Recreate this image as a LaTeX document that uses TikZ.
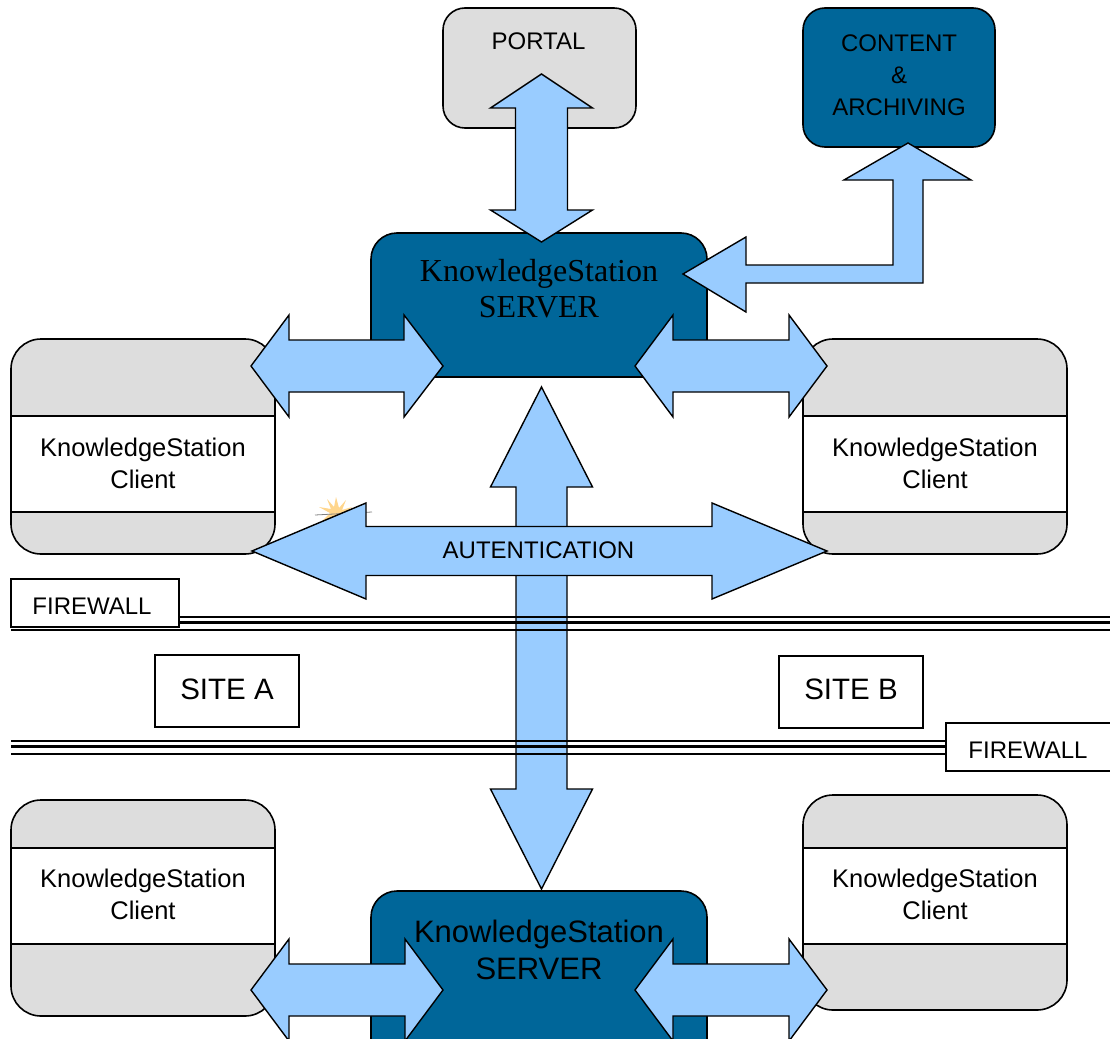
\documentclass[tikz,border=0pt]{standalone}
\usepackage{fontspec}
\setmainfont{Liberation Sans}
\newfontfamily\ksserif{Liberation Serif}
\definecolor{ksblue}{RGB}{0,102,153}
\definecolor{ksarrow}{RGB}{153,204,255}
\definecolor{ksgray}{RGB}{221,221,221}
\definecolor{kssun}{RGB}{255,214,140}
\tikzset{
  box/.style={draw=black, line width=1.6pt, inner sep=0pt},
  blockarrow/.style={fill=ksarrow, draw=black, line width=1.4pt, line join=miter},
  lbl/.style={font=\fontsize{24}{32}\selectfont, align=center, inner sep=0pt},
  clientlbl/.style={font=\fontsize{25.5}{32}\selectfont, align=center, inner sep=0pt},
  sitelbl/.style={font=\fontsize{29.5}{34}\selectfont, inner sep=0pt},
  fwline/.style={draw=black},
  plainbox/.style={draw=black, line width=1.6pt, fill=white}
}
% horizontal double block arrow: x1, base1, base2, x2, y, shaft half, head half
\newcommand\kshdbl[7]{%
  \filldraw[blockarrow] (#1,#5) -- (#2,#5-#7) -- (#2,#5-#6) -- (#3,#5-#6) -- (#3,#5-#7)
    -- (#4,#5) -- (#3,#5+#7) -- (#3,#5+#6) -- (#2,#5+#6) -- (#2,#5+#7) -- cycle;}
% vertical double block arrow: y1, base1, base2, y2, x, shaft half, head half
\newcommand\ksvdbl[7]{%
  \filldraw[blockarrow] (#5,#1) -- (#5+#7,#2) -- (#5+#6,#2) -- (#5+#6,#3) -- (#5+#7,#3)
    -- (#5,#4) -- (#5-#7,#3) -- (#5-#6,#3) -- (#5-#6,#2) -- (#5-#7,#2) -- cycle;}
\begin{document}
\begin{tikzpicture}[x=1pt,y=-1pt]
\useasboundingbox (0,0) rectangle (1110,1038);
\fill[white] (0,0) rectangle (1110,1038);

% ---------- boxes ----------
\node[box, fill=ksgray, rounded corners=22pt, minimum width=193pt, minimum height=120pt] (portal) at (539.5,68) {};
\node[box, fill=ksblue, rounded corners=22pt, minimum width=192pt, minimum height=139pt] (content) at (899,77.5) {};
\node[box, fill=ksblue, rounded corners=26pt, minimum width=336pt, minimum height=144pt] (server) at (539,305) {};
\node[box, fill=ksblue, rounded corners=26pt, minimum width=336pt, minimum height=180pt] (server2) at (539,981) {};

% clients
\node[box, fill=ksgray, rounded corners=30pt, minimum width=264pt, minimum height=215pt] (clientTL) at (143,446.5) {};
\draw[plainbox] (11,416) rectangle (275,512);
\node[box, fill=ksgray, rounded corners=30pt, minimum width=264pt, minimum height=215pt] (clientTR) at (935,446.5) {};
\draw[plainbox] (803,416) rectangle (1067,512);
\node[box, fill=ksgray, rounded corners=30pt, minimum width=264pt, minimum height=216pt] (clientBL) at (143,908) {};
\draw[plainbox] (11,848) rectangle (275,944);
\node[box, fill=ksgray, rounded corners=30pt, minimum width=264pt, minimum height=215pt] (clientBR) at (935,902.5) {};
\draw[plainbox] (803,848) rectangle (1067,944);

% ---------- main vertical arrow ----------
\ksvdbl{387}{487}{789}{889}{541.5}{25.5}{51}

% small sparkle
\fill[kssun] (336,497) -- (339,508) -- (346,500) -- (342,510) -- (352,507) -- (343,514)
  -- (353,520) -- (341,517) -- (336,528) -- (332,517) -- (322,521) -- (330,513)
  -- (319,507) -- (331,509) -- (327,499) -- (334,507) -- cycle;
\draw[gray, line width=0.8pt] (315,515) -- (372,512);

% ---------- authentication arrow ----------
\kshdbl{252}{366}{712}{827}{551}{24.5}{48}
\node[lbl] (auth) at (538.5,550) {AUTENTICATION};

% ---------- firewall lines ----------
\draw[fwline, line width=2pt] (11,616.5) -- (1112,616.5);
\draw[fwline, line width=3.6pt] (11,622.5) -- (1112,622.5);
\draw[fwline, line width=2pt] (11,629.5) -- (1112,629.5);
\draw[fwline, line width=2pt] (11,740.5) -- (1112,740.5);
\draw[fwline, line width=3.6pt] (11,746.5) -- (1112,746.5);
\draw[fwline, line width=2pt] (11,753.5) -- (1112,753.5);

\node[plainbox, minimum width=168pt, minimum height=48pt, inner sep=0pt] (fw1) at (95,603) {};
\node[lbl] (fw1txt) at (92,606) {FIREWALL};
\draw[plainbox] (946,723) rectangle (1116,771);
\node (fw2) at (1031,747) {};
\node[lbl] (fw2txt) at (1028,750.5) {FIREWALL};

\node[plainbox, minimum width=144pt, minimum height=72pt, inner sep=0pt] (siteA) at (227,691) {};
\node[sitelbl] (siteAtxt) at (227,689) {SITE A};
\node[plainbox, minimum width=144pt, minimum height=72pt, inner sep=0pt] (siteB) at (851,692) {};
\node[sitelbl] (siteBtxt) at (851,689) {SITE B};

% ---------- other arrows ----------
\ksvdbl{74}{108}{210}{242}{541.5}{26}{51}
\filldraw[blockarrow] (683,274) -- (746,237) -- (746,265) -- (893,265) -- (893,180)
  -- (844,180) -- (908,143) -- (971,180) -- (923,180) -- (923,283) -- (746,283)
  -- (746,312) -- cycle;
\kshdbl{251}{289}{404}{443}{366}{26}{51}
\kshdbl{635}{673}{789}{827}{366}{26}{51}
\kshdbl{251}{289}{405}{443}{990}{26}{51}
\kshdbl{635}{673}{789}{827}{990}{26}{51}

% ---------- labels ----------
\node[lbl] (portaltxt) at (538.5,41.5) {PORTAL};
\node[lbl] (contenttxt) at (899,75) {CONTENT\\\&\\ARCHIVING};
\node[inner sep=0pt, align=center, font=\ksserif\fontsize{32}{36}\selectfont] (servertxt) at (539,289) {KnowledgeStation\\SERVER};
\node[inner sep=0pt, align=center, font=\fontsize{31}{37}\selectfont] (server2txt) at (539,950) {KnowledgeStation\\SERVER};
\node[clientlbl] (tlTxt) at (143,463) {KnowledgeStation\\Client};
\node[clientlbl] (trTxt) at (935,463) {KnowledgeStation\\Client};
\node[clientlbl] (blTxt) at (143,894) {KnowledgeStation\\Client};
\node[clientlbl] (brTxt) at (935,894) {KnowledgeStation\\Client};
\end{tikzpicture}
\end{document}
